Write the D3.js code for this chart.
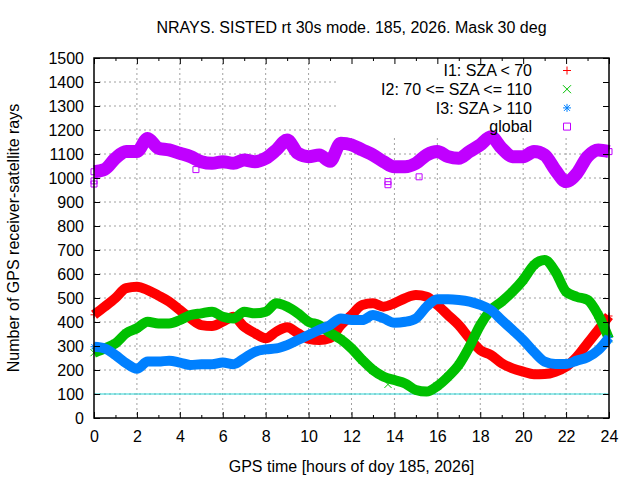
<!DOCTYPE html>
<html>
<head>
<meta charset="utf-8">
<script src="https://cdn.jsdelivr.net/npm/d3@7"></script>
<style>
  body { margin: 0; background: #fff; }
  text { font-family: "Liberation Sans", Arial, sans-serif; fill: #000; }
</style>
</head>
<body>
<div class="canvas"></div>
<script>
// data (value every half hour)
const hours = [0, 0.5, 1, 1.5, 2, 2.5, 3, 3.5, 4, 4.5, 5, 5.5, 6, 6.5, 7, 7.5, 8, 8.5, 9, 9.5, 10, 10.5, 11, 11.5,
  12, 12.5, 13, 13.5, 14, 14.5, 15, 15.5, 16, 16.5, 17, 17.5, 18, 18.5, 19, 19.5, 20, 20.5, 21, 21.5, 22, 22.5, 23, 23.5, 24];

const i1Values = [430, 464, 500, 541, 547, 533, 510, 485, 450, 415, 387, 383, 401, 422, 380, 353, 332, 360, 378, 353, 330, 325, 333, 387,
  429, 471, 478, 464, 478, 499, 512, 505, 471, 429, 387, 332, 283, 262, 228, 207, 193, 182, 183, 193, 214, 255, 311, 367, 425];

const i2Values = [272, 290, 311, 353, 374, 401, 394, 394, 408, 429, 436, 443, 422, 415, 443, 436, 443, 478, 464, 436, 401, 387, 355, 328,
  290, 242, 200, 172, 158, 144, 117, 110, 133, 172, 221, 297, 387, 450, 485, 526, 575, 637, 658, 610, 526, 505, 492, 429, 330];

const i3Values = [297, 290, 262, 228, 205, 235, 235, 239, 231, 221, 224, 224, 231, 224, 249, 276, 286, 290, 304, 325, 346, 367, 387, 415,
  408, 408, 429, 415, 397, 401, 415, 464, 495, 495, 492, 485, 471, 450, 408, 367, 325, 276, 235, 225, 225, 239, 253, 283, 335];

const globalValues = [1026, 1036, 1082, 1110, 1110, 1165, 1124, 1117, 1103, 1089, 1068, 1061, 1068, 1061, 1075, 1068, 1082, 1117, 1158, 1103, 1089, 1096, 1070, 1145,
  1138, 1117, 1096, 1068, 1047, 1047, 1061, 1096, 1110, 1089, 1082, 1110, 1138, 1172, 1124, 1089, 1089, 1110, 1096, 1033, 985, 1019, 1089, 1117, 1110];

// a few stray points away from the bands
const globalOutliers = [[0, 975], [0, 988], [4.75, 1035], [13.7, 972], [13.7, 985], [15.15, 1005]];
const i2Outliers = [[13.7, 140]];

const seriesNames = ["I1: SZA < 70", "I2: 70 <= SZA <= 110", "I3: SZA > 110", "global"];
const xTicks = d3.range(0, 25, 2);
const xMinorTicks = d3.range(0, 25, 1);
const yTicks = d3.range(0, 1501, 100);
const referenceLevel = 100;

const titleText = "NRAYS. SISTED rt 30s mode. 185, 2026. Mask 30 deg";
const xLabelText = "GPS time [hours of doy 185, 2026]";
const yLabelText = "Number of GPS receiver-satellite rays";

const dims = { width: 640, height: 480 };
const margin = { top: 58, right: 31, bottom: 62, left: 94 };
const plotW = dims.width - margin.left - margin.right;
const plotH = dims.height - margin.top - margin.bottom;
const fontSize = 16;

const svg = d3
  .select(".canvas")
  .append("svg")
  .attr("width", dims.width)
  .attr("height", dims.height);

const graph = svg
  .append("g")
  .attr("transform", `translate(${margin.left}, ${margin.top})`);

const x = d3.scaleLinear().domain([0, 24]).range([0, plotW]);
const y = d3.scaleLinear().domain([0, 1500]).range([plotH, 0]);

// grid
const grid = graph.append("g").attr("stroke", "#a0a0a0").attr("stroke-dasharray", "2,3");
grid.selectAll("line.gx").data(xTicks.slice(1, -1)).enter().append("line")
  .attr("x1", (d) => x(d)).attr("x2", (d) => x(d)).attr("y1", 0).attr("y2", plotH);
grid.selectAll("line.gy").data(yTicks.slice(1, -1)).enter().append("line")
  .attr("y1", (d) => y(d)).attr("y2", (d) => y(d)).attr("x1", 0).attr("x2", plotW);

// key box hides the grid behind the legend
const keyBox = { x0: 337 - margin.left, y1: 136 - margin.top };
graph.append("rect")
  .attr("x", keyBox.x0).attr("y", 0)
  .attr("width", plotW - keyBox.x0).attr("height", keyBox.y1)
  .attr("fill", "#fff");

// reference level line
graph.append("line")
  .attr("x1", 0).attr("x2", plotW)
  .attr("y1", y(referenceLevel)).attr("y2", y(referenceLevel))
  .attr("stroke", "#2cd6d6").attr("stroke-width", 1.2);

// marker shapes (gnuplot point types 1..4)
const markerPath = (type, s) => {
  switch (type) {
    case "plus": return `M${-s},0H${s}M0,${-s}V${s}`;
    case "cross": return `M${-s},${-s}L${s},${s}M${-s},${s}L${s},${-s}`;
    case "star": return `M${-s},0H${s}M0,${-s}V${s}M${-s * 0.75},${-s * 0.75}L${s * 0.75},${s * 0.75}M${-s * 0.75},${s * 0.75}L${s * 0.75},${-s * 0.75}`;
    default: return `M${-s},${-s}H${s}V${s}H${-s}Z`;
  }
};

const series = [
  { name: seriesNames[0], values: i1Values, color: "#ff0000", marker: "plus", band: 10, outliers: [] },
  { name: seriesNames[1], values: i2Values, color: "#00c000", marker: "cross", band: 10, outliers: i2Outliers },
  { name: seriesNames[2], values: i3Values, color: "#0080ff", marker: "star", band: 10, outliers: [] },
  { name: seriesNames[3], values: globalValues, color: "#c000ff", marker: "square", band: 13, outliers: globalOutliers },
];

const line = d3.line()
  .x((d) => x(d[0]))
  .y((d) => y(d[1]))
  .curve(d3.curveMonotoneX);

const data = graph.append("g");

series.forEach((s) => {
  const pts = hours.map((h, i) => [h, s.values[i]]);
  const g = data.append("g");

  // dense 30 s samples look like a solid band
  g.append("path")
    .attr("d", line(pts))
    .attr("fill", "none")
    .attr("stroke", s.color)
    .attr("stroke-width", s.band)
    .attr("stroke-linejoin", "round")
    .attr("stroke-linecap", "butt");

  g.selectAll("path.pt").data(pts.concat(s.outliers)).enter().append("path")
    .attr("transform", (d) => `translate(${x(d[0])}, ${y(d[1])})`)
    .attr("d", markerPath(s.marker, s.marker === "square" ? 3 : 3.5))
    .attr("fill", "none")
    .attr("stroke", s.color)
    .attr("stroke-width", 1);
});

// axes with inward ticks, mirrored on top and right
const axisStyle = (sel) => {
  sel.select(".domain").remove();
  sel.selectAll("line").attr("stroke", "#000");
  sel.selectAll("text").attr("font-size", fontSize).attr("fill", "#000")
    .attr("font-family", '"Liberation Sans", Arial, sans-serif');
};

graph.append("g")
  .attr("transform", `translate(0, ${plotH})`)
  .call(d3.axisBottom(x).tickValues(xTicks).tickFormat(d3.format("d")).tickSize(-6).tickPadding(13))
  .call(axisStyle);

graph.append("g")
  .attr("transform", `translate(0, ${plotH})`)
  .call(d3.axisBottom(x).tickValues(xMinorTicks.filter((d) => d % 2)).tickFormat("").tickSize(-3))
  .call(axisStyle);

graph.append("g")
  .call(d3.axisTop(x).tickValues(xTicks).tickFormat("").tickSize(-6))
  .call(axisStyle);

graph.append("g")
  .call(d3.axisTop(x).tickValues(xMinorTicks.filter((d) => d % 2)).tickFormat("").tickSize(-3))
  .call(axisStyle);

graph.append("g")
  .call(d3.axisLeft(y).tickValues(yTicks).tickFormat(d3.format("d")).tickSize(-6).tickPadding(10))
  .call(axisStyle);

graph.append("g")
  .attr("transform", `translate(${plotW}, 0)`)
  .call(d3.axisRight(y).tickValues(yTicks).tickFormat("").tickSize(-6))
  .call(axisStyle);

// border
graph.append("rect")
  .attr("width", plotW).attr("height", plotH)
  .attr("fill", "none").attr("stroke", "#000").attr("stroke-width", 1.5);

// legend
const legend = graph.append("g");
series.forEach((s, i) => {
  const ly = 12.5 + i * 18.7;
  legend.append("text")
    .attr("x", 532 - margin.left).attr("y", ly)
    .attr("dy", "0.35em")
    .attr("text-anchor", "end")
    .attr("font-size", fontSize)
    .text(s.name);
  legend.append("path")
    .attr("transform", `translate(${567 - margin.left}, ${ly})`)
    .attr("d", markerPath(s.marker, s.marker === "square" ? 3.5 : 4))
    .attr("fill", "none")
    .attr("stroke", s.color);
});

// titles
svg.append("text")
  .attr("x", margin.left + plotW / 2).attr("y", 33)
  .attr("text-anchor", "middle").attr("font-size", fontSize)
  .text(titleText);

svg.append("text")
  .attr("x", margin.left + plotW / 2).attr("y", 472)
  .attr("text-anchor", "middle").attr("font-size", fontSize)
  .text(xLabelText);

svg.append("text")
  .attr("transform", `translate(19, ${margin.top + plotH / 2}) rotate(-90)`)
  .attr("text-anchor", "middle").attr("font-size", fontSize)
  .text(yLabelText);
</script>
</body>
</html>
